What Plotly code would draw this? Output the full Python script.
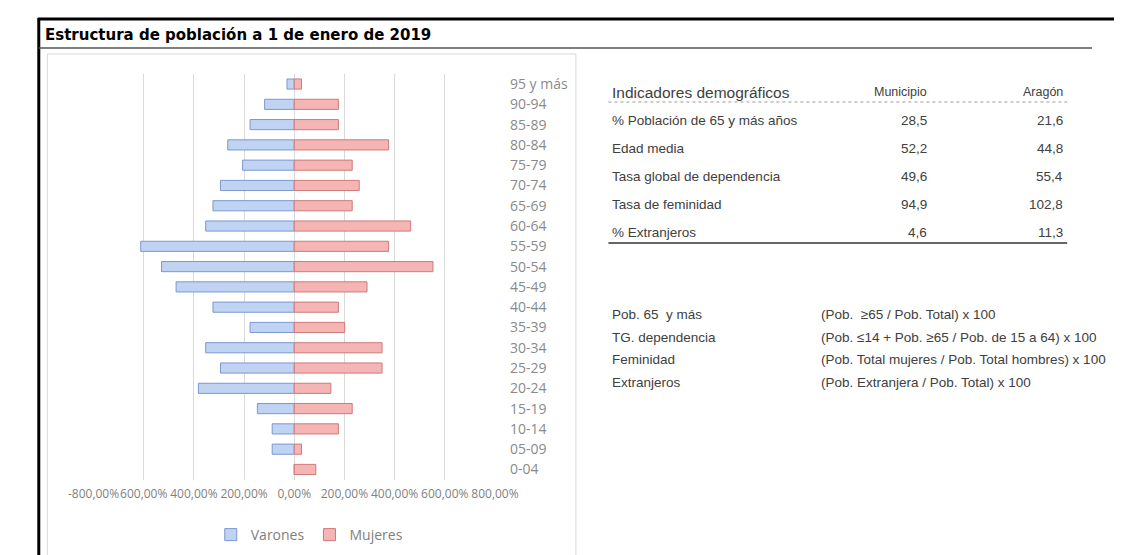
import plotly.graph_objects as go

# ---------------- data ----------------
edades = ["95 y más", "90-94", "85-89", "80-84", "75-79", "70-74", "65-69", "60-64",
          "55-59", "50-54", "45-49", "40-44", "35-39", "30-34", "25-29", "20-24",
          "15-19", "10-14", "05-09", "0-04"]
varones = [29, 118, 176, 265, 206, 294, 324, 353, 612, 529, 471, 324, 176, 353, 294, 382,
           147, 88, 88, 0]
mujeres = [29, 176, 176, 376, 231, 259, 231, 464, 376, 553, 290, 176, 201, 350, 350, 146,
           231, 176, 29, 86]

x_tickvals = [-800, -600, -400, -200, 0, 200, 400, 600, 800]
x_ticktext = ["-800,00%", "600,00%", "400,00%", "200,00%", "0,00%",
              "200,00%", "400,00%", "600,00%", "800,00%"]

titulo = "Estructura de población a 1 de enero de 2019"

ind_header = ["Indicadores demográficos", "Municipio", "Aragón"]
indicadores = ["% Población de 65 y más años", "Edad media", "Tasa global de dependencia",
               "Tasa de feminidad", "% Extranjeros"]
municipio = ["28,5", "52,2", "49,6", "94,9", "4,6"]
aragon = ["21,6", "44,8", "55,4", "102,8", "11,3"]

def_labels = ["Pob. 65  y más", "TG. dependencia", "Feminidad", "Extranjeros"]
def_formulas = ["(Pob.  ≥65 / Pob. Total) x 100",
                "(Pob. ≤14 + Pob. ≥65 / Pob. de 15 a 64) x 100",
                "(Pob. Total mujeres / Pob. Total hombres) x 100",
                "(Pob. Extranjera / Pob. Total) x 100"]

# ---------------- layout helpers (pixel -> paper) ----------------
W, H = 1130, 555
def px(x):
    return x / W
def py(y):
    return 1 - y / H

fig = go.Figure()
fig.add_trace(go.Bar(
    y=edades, x=[-v for v in varones], orientation="h", name="Varones",
    marker=dict(color="#c0d3f2", line=dict(color="#7b98cf", width=1)),
    hoverinfo="skip"))
fig.add_trace(go.Bar(
    y=edades, x=mujeres, orientation="h", name="Mujeres",
    marker=dict(color="#f5b5b5", line=dict(color="#cf7a7a", width=1)),
    hoverinfo="skip"))

grey_txt = "#7f7f7f"
fig.update_layout(
    width=W, height=H,
    margin=dict(l=0, r=0, t=0, b=0),
    paper_bgcolor="white", plot_bgcolor="white",
    barmode="relative", bargap=0.5,
    showlegend=True,
    legend=dict(orientation="h", x=px(288), y=py(527), xanchor="center", yanchor="middle",
                itemwidth=30,
                font=dict(family="Open Sans", size=14, color=grey_txt),
                itemclick=False, itemdoubleclick=False, traceorder="normal"),
    xaxis=dict(domain=[px(62.3), px(482.3)], range=[-800, 800],
               tickvals=x_tickvals, ticktext=x_ticktext, tickangle=0,
               showgrid=True, gridcolor="#d9d9d9", gridwidth=1, zeroline=False,
               showline=False, ticks="", ticklabelstandoff=5,
               tickfont=dict(family="Open Sans", size=12, color=grey_txt), fixedrange=True),
    yaxis=dict(type="category", domain=[py(471.6), py(65.9)], categoryorder="array",
               categoryarray=edades, autorange="reversed", side="right", showgrid=False,
               zeroline=False, showline=False, ticks="", ticklabelstandoff=14,
               tickfont=dict(family="Open Sans", size=14, color="#8a8a8a"), fixedrange=True),
    font=dict(family="Liberation Sans"),
)

shapes = []
# outer black frame (top + left)
shapes.append(dict(type="line", xref="paper", yref="paper", x0=px(4), x1=1.0,
                   y0=py(11), y1=py(11), line=dict(color="black", width=3)))
shapes.append(dict(type="line", xref="paper", yref="paper", x0=px(5), x1=px(5),
                   y0=py(10), y1=0, line=dict(color="black", width=3)))
# title underline
shapes.append(dict(type="line", xref="paper", yref="paper", x0=px(5), x1=px(1107),
                   y0=py(40), y1=py(40), line=dict(color="#555555", width=1.5)))
# chart box
shapes.append(dict(type="rect", xref="paper", yref="paper", x0=px(14), x1=px(567),
                   y0=py(552), y1=py(46), line=dict(color="#d9d9d9", width=1),
                   layer="below"))
# table lines
shapes.append(dict(type="line", xref="paper", yref="paper", x0=px(601), x1=px(1081),
                   y0=py(94), y1=py(94), line=dict(color="#9a9a9a", width=1, dash="dot")))
shapes.append(dict(type="line", xref="paper", yref="paper", x0=px(601), x1=px(1081),
                   y0=py(235), y1=py(235), line=dict(color="#333333", width=1.5)))

annotations = []
annotations.append(dict(text="<b>" + titulo + "</b>", xref="paper", yref="paper",
                        x=px(9), y=py(27), xanchor="left", yanchor="middle", showarrow=False,
                        font=dict(family="DejaVu Sans", size=15, color="black")))

tcol = "#404040"
annotations.append(dict(text=ind_header[0], xref="paper", yref="paper", x=px(603), y=py(84),
                        xanchor="left", yanchor="middle", showarrow=False,
                        font=dict(family="Liberation Sans", size=15.5, color=tcol)))
annotations.append(dict(text=ind_header[1], xref="paper", yref="paper", x=px(936), y=py(84),
                        xanchor="right", yanchor="middle", showarrow=False,
                        font=dict(family="Liberation Sans", size=12.5, color=tcol)))
annotations.append(dict(text=ind_header[2], xref="paper", yref="paper", x=px(1079), y=py(84),
                        xanchor="right", yanchor="middle", showarrow=False,
                        font=dict(family="Liberation Sans", size=12.5, color=tcol)))

row_y = [112.7, 140.7, 168.7, 196.7, 224.5]
for i, lab in enumerate(indicadores):
    annotations.append(dict(text=lab, xref="paper", yref="paper", x=px(603), y=py(row_y[i]),
                            xanchor="left", yanchor="middle", showarrow=False,
                            font=dict(family="Liberation Sans", size=13.5, color=tcol)))
    annotations.append(dict(text=municipio[i], xref="paper", yref="paper", x=px(936),
                            y=py(row_y[i]), xanchor="right", yanchor="middle", showarrow=False,
                            font=dict(family="Liberation Sans", size=13.5, color=tcol)))
    annotations.append(dict(text=aragon[i], xref="paper", yref="paper", x=px(1079),
                            y=py(row_y[i]), xanchor="right", yanchor="middle", showarrow=False,
                            font=dict(family="Liberation Sans", size=13.5, color=tcol)))

def_y = [306.7, 329.2, 351.7, 374.2]
for i, lab in enumerate(def_labels):
    annotations.append(dict(text=lab, xref="paper", yref="paper", x=px(603), y=py(def_y[i]),
                            xanchor="left", yanchor="middle", showarrow=False,
                            font=dict(family="Liberation Sans", size=13.5, color=tcol)))
    annotations.append(dict(text=def_formulas[i], xref="paper", yref="paper", x=px(821),
                            y=py(def_y[i]), xanchor="left", yanchor="middle", showarrow=False,
                            font=dict(family="Liberation Sans", size=13.5, color=tcol)))

fig.update_layout(shapes=shapes, annotations=annotations)
fig.write_html("out.html")
